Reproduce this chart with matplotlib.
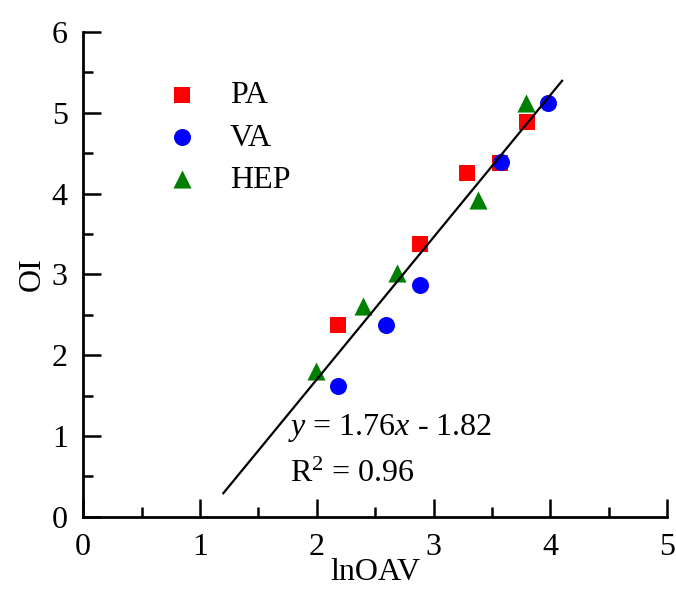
import matplotlib
matplotlib.use('Agg')
import matplotlib.pyplot as plt
import numpy as np
from matplotlib.ticker import MultipleLocator

plt.rcParams['font.family'] = ['Liberation Serif', 'DejaVu Serif']
plt.rcParams['mathtext.fontset'] = 'custom'
plt.rcParams['mathtext.rm'] = 'Liberation Serif'
plt.rcParams['mathtext.it'] = 'Liberation Serif:italic'

# ===== データ =====
pa_x = [2.18, 2.88, 3.29, 3.57, 3.80]
pa_y = [2.37, 3.38, 4.26, 4.38, 4.88]
va_x = [2.18, 2.59, 2.88, 3.58, 3.98]
va_y = [1.62, 2.37, 2.87, 4.39, 5.12]
hep_x = [1.99, 2.40, 2.69, 3.38, 3.79]
hep_y = [1.81, 2.61, 3.02, 3.92, 5.12]

slope, intercept = 1.76, -1.82
fit_range = [1.2, 4.1]

FS = 23

fig = plt.figure(figsize=(6.76, 5.92), dpi=100)
ax = fig.add_axes([0.123, 0.127, 0.864, 0.819])

ax.scatter(pa_x, pa_y, marker='s', s=130, color='#ff0000', label='PA', zorder=3, linewidths=0)
ax.scatter(va_x, va_y, marker='o', s=150, color='#0000ff', label='VA', zorder=3, linewidths=0)
ax.scatter(hep_x, hep_y, marker='^', s=170, color='#008000', label='HEP', zorder=3, linewidths=0)

# 回帰直線
fx = np.array(fit_range)
ax.plot(fx, slope * fx + intercept, color='black', linewidth=1.6, zorder=4)

ax.text(1.75, 1.01, '$y$ = 1.76$x$ - 1.82', fontsize=FS, va='baseline')
ax.text(1.77, 0.43, 'R$^2$ = 0.96', fontsize=FS, va='baseline')

ax.set_xlim(0, 5)
ax.set_ylim(0, 6)
ax.xaxis.set_major_locator(MultipleLocator(1))
ax.xaxis.set_minor_locator(MultipleLocator(0.5))
ax.yaxis.set_major_locator(MultipleLocator(1))
ax.yaxis.set_minor_locator(MultipleLocator(0.5))
ax.tick_params(which='major', direction='in', length=13, width=1.8, labelsize=FS, pad=12)
ax.tick_params(axis='y', which='major', pad=11)
ax.tick_params(which='minor', direction='in', length=7, width=1.8)
ax.spines['top'].set_visible(False)
ax.spines['right'].set_visible(False)
ax.spines['left'].set_linewidth(2)
ax.spines['bottom'].set_linewidth(2)

ax.set_xlabel('lnOAV', fontsize=FS, labelpad=-3)
ax.set_ylabel('OI', fontsize=FS, labelpad=4)

ax.legend(frameon=False, loc='upper left', bbox_to_anchor=(0.065, 0.958),
          fontsize=FS, handletextpad=0.5, labelspacing=0.4, scatterpoints=1)

fig.savefig('out.png', dpi=100, facecolor='white')
